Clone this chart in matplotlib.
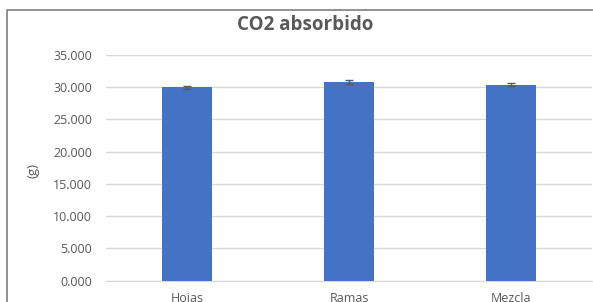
import matplotlib
matplotlib.use("Agg")
import matplotlib.pyplot as plt
import matplotlib.lines as lines
from matplotlib.ticker import FuncFormatter

# data
categories = ["Hojas", "Ramas", "Mezcla"]
co2 = [30000, 30850, 30390]
co2_err = [200, 300, 200]
yticks = [0, 5000, 10000, 15000, 20000, 25000, 30000, 35000]

plt.rcParams['font.family'] = ['Open Sans', 'DejaVu Sans']
text_col = '#595959'

W, H = 593, 302
fig = plt.figure(figsize=(W / 100, H / 100), dpi=100)
ax = fig.add_axes([106 / W, 1 - 280.7 / H, 486 / W, (280.7 - 55) / H])

x = range(len(categories))
ax.bar(x, co2, width=0.31, color='#4472C4', zorder=3)
ax.errorbar(x, co2, yerr=co2_err, fmt='none', ecolor='#595959',
            elinewidth=1, capsize=3, capthick=1, zorder=4)

ax.set_xlim(-0.5, 2.5)
ax.set_ylim(0, 35000)
ax.set_yticks(yticks)
ax.yaxis.set_major_formatter(FuncFormatter(lambda v, p: f"{v/1000:.3f}"))
ax.set_xticks(list(x))
ax.set_xticklabels(categories)
ax.grid(axis='y', color='#D9D9D9', linewidth=1, zorder=0)
for s in ['top', 'right', 'left']:
    ax.spines[s].set_visible(False)
ax.spines['bottom'].set_color('#D9D9D9')
ax.tick_params(axis='both', length=0, labelsize=9, labelcolor=text_col)
ax.tick_params(axis='y', pad=10)
ax.tick_params(axis='x', pad=8)

fig.text(305 / W, 1 - 25 / H, "CO2 absorbido", ha='center', va='center',
         fontsize=13.5, fontweight='bold', color=text_col)
fig.text(33 / W, 1 - 170 / H, "(g)", rotation=90, ha='center', va='center',
         fontsize=9.5, color=text_col)

# chart-area border (only left and top visible in the crop)
border = lines.Line2D([7 / W, 7 / W, 1.01], [-0.01, 1 - 10 / H, 1 - 10 / H],
                      transform=fig.transFigure, color='#7F7F7F', linewidth=1.2)
fig.add_artist(border)

fig.savefig("out.png", dpi=100)
